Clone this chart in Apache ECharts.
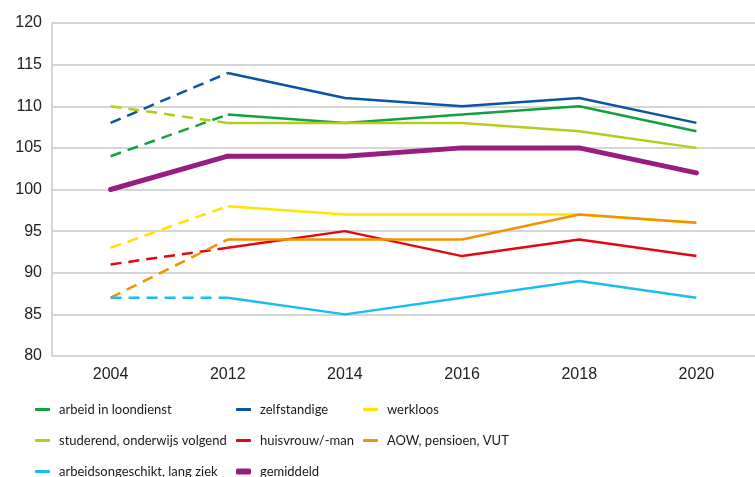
<!DOCTYPE html>
<html>
<head>
<meta charset="utf-8">
<script src="https://cdn.jsdelivr.net/npm/echarts@6/dist/echarts.min.js"></script>
<style>
  html, body { margin: 0; padding: 0; background: #fff; }
  #chart { width: 755px; height: 477px; }
</style>
</head>
<body>
<div id="chart"></div>
<script>
// categorieën (jaren)
var years = ['2004', '2012', '2014', '2016', '2018', '2020'];

// waarden per groep
var arbeid = [104, 109, 108, 109, 110, 107];
var zelfstandige = [108, 114, 111, 110, 111, 108];
var werkloos = [93, 98, 97, 97, 97, 96];
var studerend = [110, 108, 108, 108, 107, 105];
var huisvrouw = [91, 93, 95, 92, 94, 92];
var aow = [87, 94, 94, 94, 97, 96];
var arbeidsongeschikt = [87, 87, 85, 87, 89, 87];
var gemiddeld = [100, 104, 104, 105, 105, 102];

var names = ['arbeid in loondienst', 'zelfstandige', 'werkloos',
  'studerend, onderwijs volgend', 'huisvrouw/-man', 'AOW, pensioen, VUT',
  'arbeidsongeschikt, lang ziek', 'gemiddeld'];
var values = [arbeid, zelfstandige, werkloos, studerend, huisvrouw, aow, arbeidsongeschikt, gemiddeld];
var colors = ['#13a040', '#0b54a2', '#ffe400', '#b4cc1a', '#e30613', '#f39200', '#1bbdee', '#971d80'];

var chart = echarts.init(document.getElementById('chart'));

var series = [];
// eerst gestippeld stuk 2004-2012, daarna doorgetrokken lijn
values.forEach(function (v, i) {
  var w = i === 7 ? 5 : 2.5;
  series.push({
    type: 'line',
    name: names[i] + ' (streep)',
    data: v.map(function (x, j) { return j <= 1 ? x : null; }),
    symbol: 'none',
    z: i === 7 ? 3 : 2,
    lineStyle: { color: colors[i], width: w, type: i === 7 ? 'solid' : [11, 7], cap: i === 7 ? 'round' : 'butt' },
    itemStyle: { color: colors[i] }
  });
  series.push({
    type: 'line',
    name: names[i],
    data: v.map(function (x, j) { return j >= 1 ? x : null; }),
    symbol: 'none',
    z: i === 7 ? 3 : 2,
    lineStyle: { color: colors[i], width: w, cap: i === 7 ? 'round' : 'butt' },
    itemStyle: { color: colors[i] }
  });
});

// legenda in drie kolommen
var legendPos = [[35, 403], [236, 403], [363, 403], [35, 434], [236, 434], [363, 434], [35, 465], [236, 465]];
var legends = names.map(function (n, i) {
  return {
    data: [n],
    left: legendPos[i][0],
    top: legendPos[i][1],
    padding: 0,
    icon: 'roundRect',
    itemWidth: 15,
    itemHeight: i === 7 ? 6 : 3,
    itemGap: 0,
    selectedMode: false,
    textStyle: { fontFamily: 'Lato', fontSize: 13, color: '#1a1a1a', padding: [0, 0, 0, 4] }
  };
});

var option = {
  animation: false,
  grid: { left: 52, right: 0, top: 23, bottom: 121 },
  legend: legends,
  xAxis: {
    type: 'category',
    data: years,
    boundaryGap: true,
    axisLine: { show: false },
    axisTick: { show: false },
    axisLabel: { fontFamily: 'Liberation Sans', fontSize: 16, color: '#222', margin: 11 }
  },
  yAxis: {
    type: 'value',
    min: 80,
    max: 120,
    interval: 5,
    axisLine: { show: true, lineStyle: { color: '#c8c8c8', width: 1.5 } },
    axisTick: { show: false },
    splitLine: { lineStyle: { color: '#c8c8c8', width: 1.5 } },
    axisLabel: { fontFamily: 'Liberation Sans', fontSize: 16, color: '#222', margin: 10 }
  },
  series: series
};

chart.setOption(option);
</script>
</body>
</html>
